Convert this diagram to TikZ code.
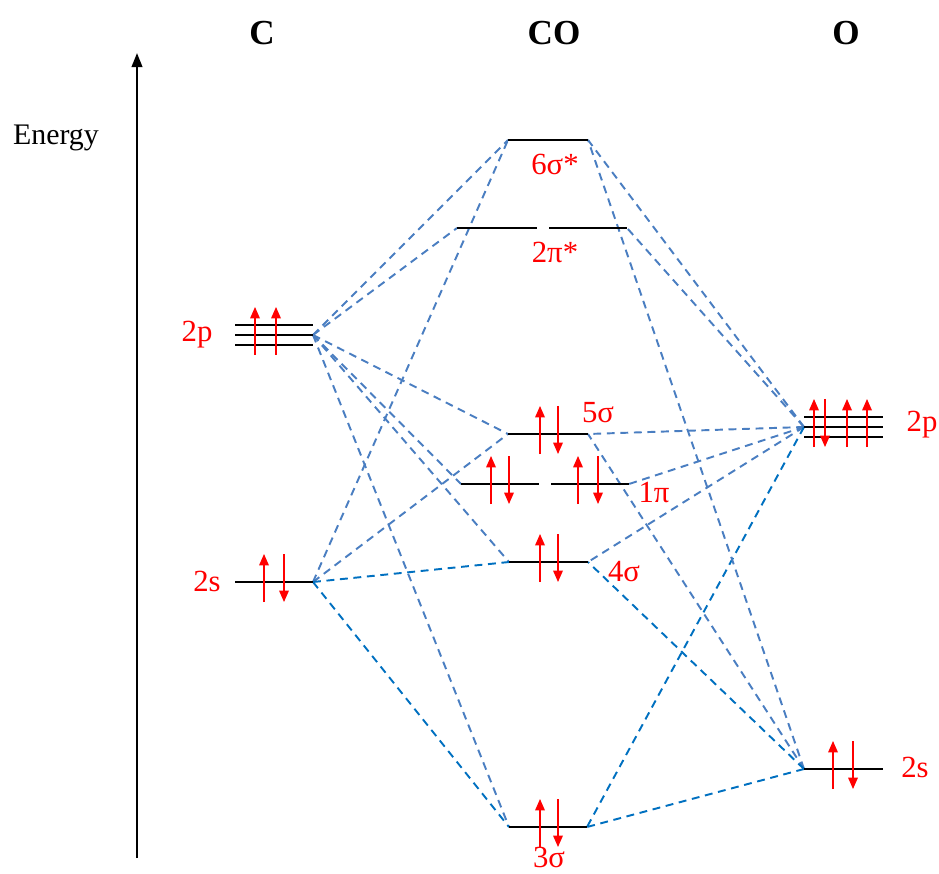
\documentclass[tikz,border=0pt]{standalone}
\usepackage{fontspec}
\setmainfont{Liberation Serif}
\usetikzlibrary{arrows.meta}
\definecolor{linksteel}{RGB}{74,126,193}
\definecolor{linkbright}{RGB}{0,112,192}
\tikzset{
 mo level/.style={line width=1.5pt},
 mo link/.style={line width=1.1pt,dash pattern=on 4.5pt off 3.2pt,linksteel},
 mo link bright/.style={mo link,linkbright},
 mo spin/.style={red,line width=0.7pt,-{Triangle[width=5.5pt,length=6.5pt]}},
 mo label/.style={text=red,font=\fontsize{17.5}{20}\selectfont,inner sep=0pt},
 mo title/.style={font=\fontsize{20}{24}\selectfont\bfseries,inner sep=0pt}
}

\begin{document}
\begin{tikzpicture}[x=0.02cm,y=-0.02cm]
 \useasboundingbox (0,0) rectangle (939,874);
 % atomic orbitals (ends that meet the links)
 \coordinate (c2p) at (313,335);
 \coordinate (c2s) at (313,582);
 \coordinate (o2p) at (804,427);
 \coordinate (o2s) at (804,769);
 % molecular orbitals
 \coordinate (s6L) at (508,140); \coordinate (s6R) at (588,140);
 \coordinate (p2L) at (457,228); \coordinate (p2R) at (627,228);
 \coordinate (s5L) at (508,434); \coordinate (s5R) at (588,434);
 \coordinate (p1L) at (461,484); \coordinate (p1R) at (629,484);
 \coordinate (s4L) at (509,562); \coordinate (s4R) at (588,562);
 \coordinate (s3L) at (509,827); \coordinate (s3R) at (587,827);

 \node[mo title] (tC) at (262,33) {C};
 \node[mo title] (tCO) at (554,33) {CO};
 \node[mo title] (tO) at (846,33) {O};
 \node[font=\fontsize{17}{20}\selectfont,inner sep=0pt] (energy) at (56,138) {Energy};
 \coordinate (axisB) at (137,858);
 \coordinate (axisT) at (137,53);
 \draw[line width=1.2pt,-{Triangle[width=6pt,length=8pt]}] (axisB)--(axisT);

 % links
 \foreach \m in {s6L,p2L,s5L,p1L,s4L,s3L} \draw[mo link] (c2p)--(\m);
 \foreach \m in {s6L,s5L} \draw[mo link] (c2s)--(\m);
 \foreach \m in {s4L,s3L} \draw[mo link bright] (c2s)--(\m);
 \foreach \m in {s6R,p2R,s5R,p1R,s4R} \draw[mo link] (o2p)--(\m);
 \draw[mo link bright] (o2p)--(s3R);
 \foreach \m in {s6R,s5R} \draw[mo link] (o2s)--(\m);
 \foreach \m in {s4R,s3R} \draw[mo link bright] (o2s)--(\m);

 % levels
 \foreach \y in {325,335,345} \draw[mo level] (235,\y)--(313,\y);
 \draw[mo level] (235,582)--(c2s);
 \foreach \y in {417,427,437} \draw[mo level] (804,\y)--(883,\y);
 \draw[mo level] (o2s)--(883,769);
 \draw[mo level] (s6L)--(s6R);
 \draw[mo level] (p2L)--(537,228) (549,228)--(p2R);
 \draw[mo level] (s5L)--(s5R);
 \draw[mo level] (p1L)--(539,484) (551,484)--(p1R);
 \draw[mo level] (s4L)--(s4R);
 \draw[mo level] (s3L)--(s3R);

 % electrons
 \foreach \x/\y in {255/335,276/335,264/582,814/427,847/427,867/427,833/769,
                    540/434,491/484,578/484,540/562,540/827}
   \draw[mo spin] (\x,\y+20)--(\x,\y-28);
 \foreach \x/\y in {284/582,825/427,853/769,558/434,509/484,598/484,558/562,558/827}
   \draw[mo spin] (\x,\y-28)--(\x,\y+20);

 \node[mo label] (lc2p) at (197,335) {2p};
 \node[mo label] (lc2s) at (207,581) {2s};
 \node[mo label] (lo2p) at (922,425) {2p};
 \node[mo label] (lo2s) at (915,767) {2s};
 \node[mo label] (l6s) at (555,164) {6σ*};
 \node[mo label] (l2p) at (555,252) {2π*};
 \node[mo label] (l5s) at (598,413) {5σ};
 \node[mo label] (l1p) at (654,492) {1π};
 \node[mo label] (l4s) at (624,572) {4σ};
 \node[mo label] (l3s) at (549,857) {3σ};
\end{tikzpicture}
\end{document}
